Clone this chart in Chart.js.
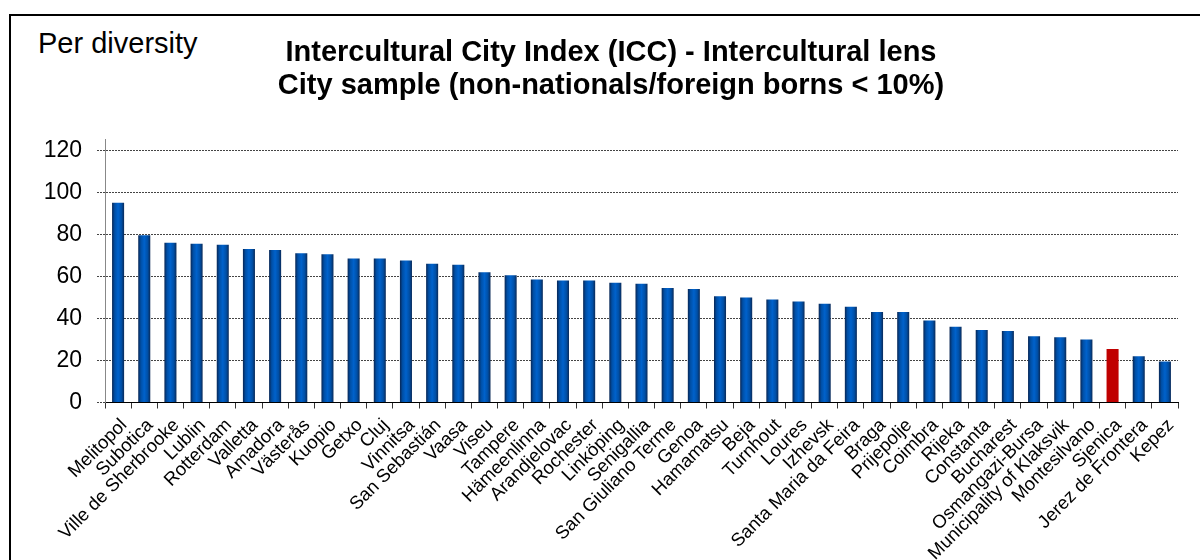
<!DOCTYPE html>
<html>
<head>
<meta charset="utf-8">
<script src="https://cdn.jsdelivr.net/npm/chart.js@4"></script>
<style>
  html, body { margin: 0; padding: 0; background: #fff; overflow: hidden; }
  #wrap { position: relative; width: 1200px; height: 560px; }
  #frame { position: absolute; left: 9px; top: 14px; width: 1300px; height: 700px;
           border-left: 2px solid #000; border-top: 2px solid #000; }
  #perDiv { position: absolute; left: 38px; top: 29px; font: 29px 'Liberation Sans', Arial, sans-serif;
            line-height: 28px; color: #000; white-space: nowrap; }
  canvas { position: absolute; left: 0; top: 0; }
</style>
</head>
<body>
<div id="wrap">
  <div id="frame"></div>
  <div id="perDiv">Per diversity</div>
  <canvas id="c" width="1200" height="560"></canvas>
</div>
<script>
// ===== data =====
const cities = [
  'Melitopol', 'Subotica', 'Ville de Sherbrooke', 'Lublin', 'Rotterdam', 'Valletta', 'Amadora',
  'Västerås', 'Kuopio', 'Getxo', 'Cluj', 'Vinnitsa', 'San Sebastián', 'Vaasa', 'Viseu', 'Tampere',
  'Hämeenlinna', 'Arandjelovac', 'Rochester', 'Linköping', 'Senigallia', 'San Giuliano Terme',
  'Genoa', 'Hamamatsu', 'Beja', 'Turnhout', 'Loures', 'Izhevsk', 'Santa Maria da Feira', 'Braga',
  'Prijepolje', 'Coimbra', 'Rijeka', 'Constanta', 'Bucharest', 'Osmangazi-Bursa',
  'Municipality of Klaksvik', 'Montesilvano', 'Sjenica', 'Jerez de Frontera', 'Kepez'
];
const scores = [
  95, 79.5, 76, 75.5, 75, 73, 72.5,
  71, 70.5, 68.5, 68.5, 67.5, 66, 65.5, 62, 60.5,
  58.5, 58, 58, 57, 56.5, 54.5,
  54, 50.5, 50, 49, 48, 47, 45.5, 43,
  43, 39, 36, 34.5, 34, 31.5,
  31, 30, 25.5, 22, 19.5
];
const yTicks = [0, 20, 40, 60, 80, 100, 120];
const highlightCity = 'Sjenica';
const titleLines = [
  'Intercultural City Index (ICC) - Intercultural lens',
  'City sample (non-nationals/foreign borns < 10%)'
];

const FONT = "'Liberation Sans', Arial, sans-serif";
const BAR_PCT = 0.46;

// Excel-ish cylinder shading across each bar
function barFill(c) {
  if (cities[c.dataIndex] === highlightCity) return '#C00000';
  const chart = c.chart;
  const xs = chart.scales && chart.scales.x;
  if (!xs || !chart.chartArea) return '#0058B8';
  const cx = xs.getPixelForValue(c.dataIndex);
  const half = (xs.width / cities.length) * BAR_PCT / 2;
  const g = chart.ctx.createLinearGradient(cx - half, 0, cx + half, 0);
  g.addColorStop(0, '#082654');
  g.addColorStop(0.22, '#004fa6');
  g.addColorStop(0.5, '#0062cc');
  g.addColorStop(0.78, '#004fa6');
  g.addColorStop(1, '#0a2a58');
  return g;
}

new Chart(document.getElementById('c'), {
  type: 'bar',
  data: {
    labels: cities,
    datasets: [{
      data: scores,
      backgroundColor: barFill,
      borderWidth: 0,
      barPercentage: BAR_PCT,
      categoryPercentage: 1
    }]
  },
  options: {
    responsive: false,
    animation: false,
    layout: { padding: { left: 44, right: 22, top: 0, bottom: 0 } },
    plugins: {
      legend: { display: false },
      tooltip: { enabled: false },
      title: {
        display: true,
        text: titleLines,
        color: '#000',
        font: { family: FONT, size: 29, weight: 'bold', lineHeight: 1.15 },
        padding: { top: 36, bottom: 37 }
      }
    },
    scales: {
      x: {
        grid: { display: true, drawOnChartArea: false, drawTicks: true, tickLength: 6,
                offset: true, color: '#000', tickColor: '#333' },
        border: { color: '#000', width: 1 },
        ticks: {
          autoSkip: false, minRotation: 45, maxRotation: 45, padding: 6, labelOffset: 6,
          color: '#000', font: { family: FONT, size: 18.5 }
        },
        afterFit: s => { s.height = 157.5; }
      },
      y: {
        min: 0, max: 125,
        afterBuildTicks: s => { s.ticks = yTicks.map(v => ({ value: v })); },
        ticks: { padding: 15, color: '#000', font: { family: FONT, size: 23 } },
        grid: { color: '#444', tickColor: '#444', tickLength: 8, tickBorderDash: [2, 1] },
        border: { color: '#888', width: 1, dash: [2, 1] },
        afterFit: s => { s.width = 61; }
      }
    }
  }
});
</script>
</body>
</html>
